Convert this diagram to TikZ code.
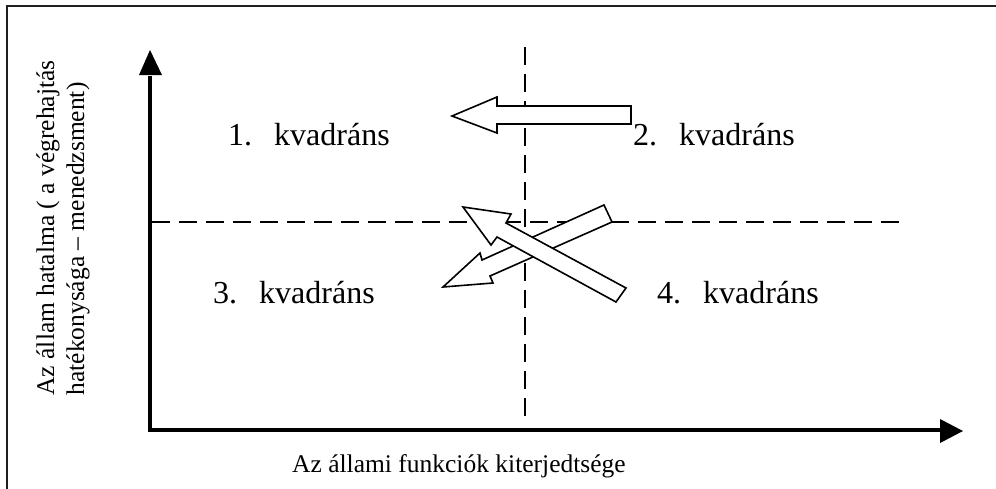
\documentclass[tikz,border=0pt]{standalone}
\usepackage{fontspec}
\setmainfont{Liberation Serif}
\begin{document}
\begin{tikzpicture}[x=1pt,y=-1pt,
  quad/.style={anchor=base west, inner sep=0pt, font=\fontsize{32}{38}\selectfont},
  axlabel/.style={inner sep=0pt, font=\fontsize{25.5}{30}\selectfont},
  guide/.style={line width=2pt, dash pattern=on 18pt off 9pt},
  axisline/.style={line width=4pt},
  blockarrow/.style={draw=black, fill=white, line width=1.6pt, line join=miter}]
\useasboundingbox (0,0) rectangle (996,488);
% frame
\draw[line width=2.2pt, color=black!88] (7,492) -- (7,6) -- (1000,6);
% axes
\coordinate (O) at (150,430);
\coordinate (ytip) at (150,50);
\coordinate (xtip) at (963,431);
\coordinate (ybase) at (150,76);
\coordinate (xbase) at (942,430);
\draw[axisline] (ybase) -- (O) -- (xbase);
\fill (ytip) -- (139,75) -- (162,75) -- cycle;
\fill (xtip) -- (940,419) -- (940,443) -- cycle;
% guides
\coordinate (vtop) at (525,47);
\coordinate (vbot) at (525,422);
\coordinate (hleft) at (152,222);
\coordinate (hright) at (905,222);
\draw[guide] (vtop) -- (vbot);
\draw[guide] (hleft) -- (hright);
% block arrows
\draw[blockarrow] (452,116) -- (497,97) -- (497,106) -- (631,106) -- (631,124) -- (497,124) -- (497,133) -- cycle;
\draw[blockarrow] (604,205) -- (482,260) -- (480,253) -- (443,287) -- (493,283) -- (490,276) -- (612,222) -- cycle;
\draw[blockarrow] (463,207) -- (511,214) -- (506,223) -- (626,288) -- (616,302) -- (497,237) -- (491,245) -- cycle;
% labels
\node[quad] (q1) at (228,145) {1.\hspace{22pt}kvadráns};
\node[quad] (q2) at (633,145) {2.\hspace{22pt}kvadráns};
\node[quad] (q3) at (213,303) {3.\hspace{22pt}kvadráns};
\node[quad] (q4) at (657,303) {4.\hspace{22pt}kvadráns};
\node[axlabel, anchor=base west] (xl) at (292,472) {Az állami funkciók kiterjedtsége};
\node[axlabel, rotate=90, align=left] (yl) at (63,228) {Az állam hatalma ( a végrehajtás\\hatékonysága – menedzsment)};
\end{tikzpicture}
\end{document}
